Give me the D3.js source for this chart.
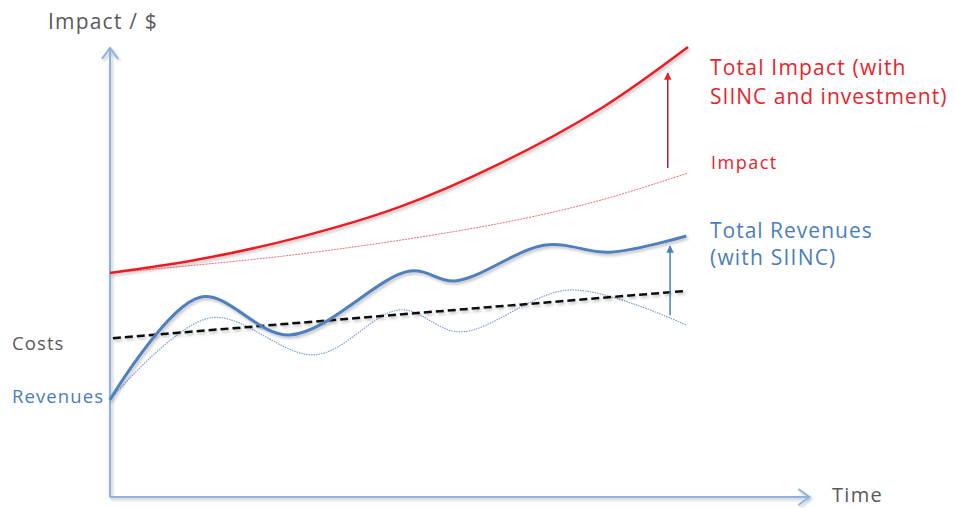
<!DOCTYPE html>
<html>
<head>
<meta charset="utf-8">
<script src="https://cdn.jsdelivr.net/npm/d3@7"></script>
<style>
  body { margin: 0; background: #fff; }
  text { font-family: "Open Sans", sans-serif; }
</style>
</head>
<body>
<div id="chart"></div>
<script>
// time runs 0..100, value runs 0..100 (no ticks on the original)
const impactT = [0, 15, 33, 50, 67, 85, 100];
const totalImpact = [49.8, 52.7, 57.8, 64.4, 73.8, 86.4, 100];
const baseImpactT = [0, 33, 67, 85, 100];
const baseImpact = [49.8, 54, 60.7, 66, 72];

const revT = [0, 15.6, 31.1, 51.9, 59.7, 75.3, 86.5, 99.7];
const totalRevenues = [21.6, 44.4, 36, 50.2, 48, 56, 54.4, 58];
const baseRevT = [0, 17.3, 35.5, 50.2, 60.6, 79.6, 99.7];
const baseRevenues = [21.6, 39.8, 31.6, 41.6, 36.7, 46, 38.2];

const costsT = [0.5, 99.7];
const costs = [35.3, 45.8];

const impactArrow = { t: 96.5, from: 73.1, to: 94.2 };
const revenueArrow = { t: 96.9, from: 40.4, to: 55.8 };

const width = 955, height = 508;
const svg = d3.select("#chart").append("svg")
  .attr("width", width).attr("height", height);

const x = d3.scaleLinear().domain([0, 100]).range([110, 688]);
const y = d3.scaleLinear().domain([0, 100]).range([497, 47]);

const defs = svg.append("defs");
const f = defs.append("filter").attr("id", "shadow")
  .attr("x", "-5%").attr("y", "-20%").attr("width", "110%").attr("height", "140%");
f.append("feDropShadow").attr("dx", 1.5).attr("dy", 2).attr("stdDeviation", 1.5)
  .attr("flood-color", "#000").attr("flood-opacity", 0.25);

function head(id, color) {
  defs.append("marker").attr("id", id)
    .attr("viewBox", "0 0 10 10").attr("refX", 9).attr("refY", 5)
    .attr("markerWidth", 5).attr("markerHeight", 5).attr("orient", "auto")
    .append("path").attr("d", "M0,0 L10,5 L0,10 z").attr("fill", color);
}
head("redHead", "#e8242b");
head("blueHead", "#4a7ebb");

const axisColor = "#8db3e2";
// axes
const axes = svg.append("g").attr("filter", "url(#shadow)");
axes.append("line").attr("x1", x(0)).attr("x2", x(0)).attr("y1", y(0)).attr("y2", y(99.8))
  .attr("stroke", axisColor).attr("stroke-width", 2);
axes.append("path")
  .attr("d", `M${x(0) - 8},${y(99.8) + 11} L${x(0)},${y(99.8)} L${x(0) + 8},${y(99.8) + 11}`)
  .attr("fill", "none").attr("stroke", axisColor).attr("stroke-width", 2);
axes.append("line").attr("x1", x(0)).attr("x2", x(121)).attr("y1", y(0)).attr("y2", y(0))
  .attr("stroke", axisColor).attr("stroke-width", 2);
axes.append("path")
  .attr("d", `M${x(121) - 11},${y(0) - 8} L${x(121)},${y(0)} L${x(121) - 11},${y(0) + 8}`)
  .attr("fill", "none").attr("stroke", axisColor).attr("stroke-width", 2);

const line = d3.line().x(d => x(d[0])).y(d => y(d[1])).curve(d3.curveCatmullRom.alpha(0.5));
const zip = (a, b) => a.map((v, i) => [v, b[i]]);

// base impact thin
svg.append("path").attr("d", line(zip(baseImpactT, baseImpact)))
  .attr("fill", "none").attr("stroke", "#ef6f6f").attr("stroke-width", 1)
  .attr("stroke-dasharray", "2,1");
// base revenues thin dotted
svg.append("path").attr("d", line(zip(baseRevT, baseRevenues)))
  .attr("fill", "none").attr("stroke", "#7d9fcf").attr("stroke-width", 1.2)
  .attr("stroke-dasharray", "1.5,1");
// costs dashed
svg.append("path").attr("d", d3.line().x(d => x(d[0])).y(d => y(d[1]))(zip(costsT, costs)))
  .attr("fill", "none").attr("stroke", "#111").attr("stroke-width", 2.5)
  .attr("stroke-dasharray", "8,4").attr("filter", "url(#shadow)");
// total revenues
svg.append("path").attr("d", line(zip(revT, totalRevenues)))
  .attr("fill", "none").attr("stroke", "#4f7fbd").attr("stroke-width", 3)
  .attr("filter", "url(#shadow)");
// total impact
svg.append("path").attr("d", line(zip(impactT, totalImpact)))
  .attr("fill", "none").attr("stroke", "#ee1c24").attr("stroke-width", 2.5)
  .attr("filter", "url(#shadow)");

// arrows
svg.append("line").attr("x1", x(impactArrow.t)).attr("x2", x(impactArrow.t))
  .attr("y1", y(impactArrow.from)).attr("y2", y(impactArrow.to))
  .attr("stroke", "#a8262b").attr("stroke-width", 1.5).attr("marker-end", "url(#redHead)");
svg.append("line").attr("x1", x(revenueArrow.t)).attr("x2", x(revenueArrow.t))
  .attr("y1", y(revenueArrow.from)).attr("y2", y(revenueArrow.to))
  .attr("stroke", "#4a7ebb").attr("stroke-width", 1.5).attr("marker-end", "url(#blueHead)");

// labels
const grey = "#595959", red = "#e8242b", blue = "#4a7ebb";
function label(tx, ty, s, color, size, ls) {
  svg.append("text").attr("x", tx).attr("y", ty).attr("fill", color)
    .attr("font-size", size).attr("letter-spacing", ls).text(s);
}
label(48, 29, "Impact / $", grey, 21, 1.2);
label(832, 502, "Time", grey, 20, 1.3);
label(12, 350, "Costs", grey, 18.5, 1.1);
label(12, 403, "Revenues", blue, 18.5, 1.1);
label(710, 75, "Total Impact (with", red, 21, 1.2);
label(710, 104, "SIINC and investment)", red, 21, 1.0);
label(711, 169, "Impact", red, 18, 1.5);
label(710, 238, "Total Revenues", blue, 21, 1.0);
label(710, 265, "(with SIINC)", blue, 21, 1.2);
</script>
</body>
</html>
